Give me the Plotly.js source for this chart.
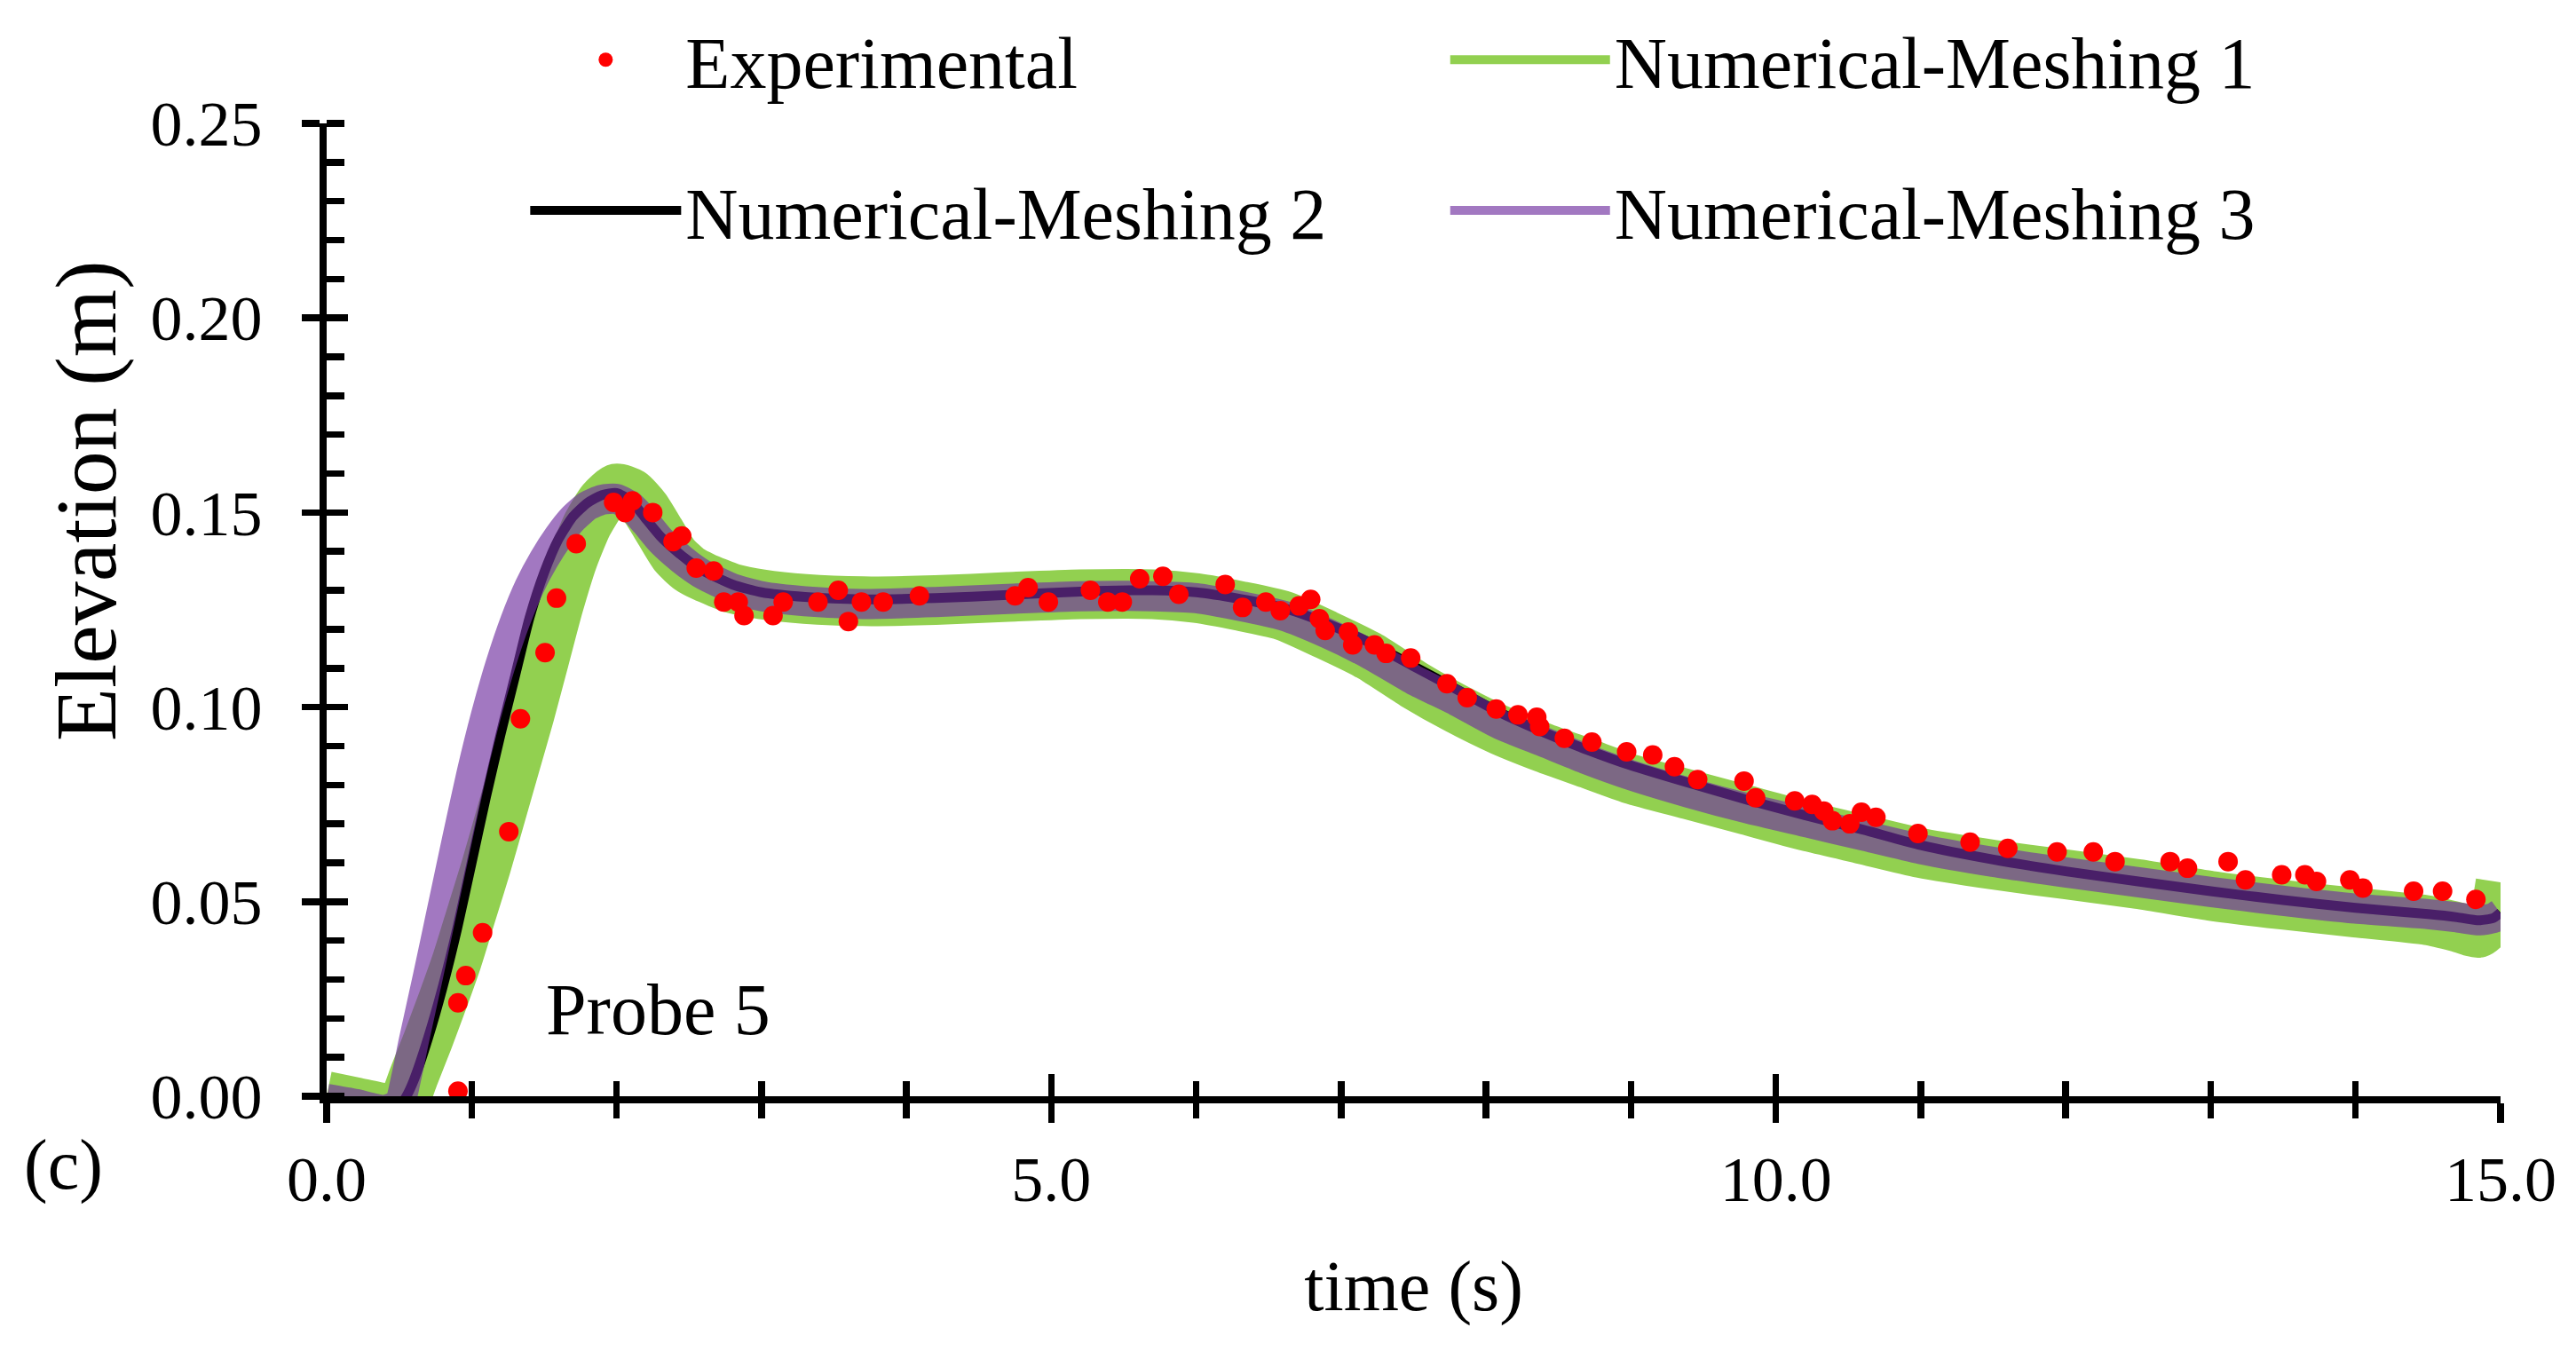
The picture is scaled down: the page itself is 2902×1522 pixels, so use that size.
<!DOCTYPE html>
<html>
<head>
<meta charset="utf-8">
<script src="https://cdn.plot.ly/plotly-3.0.1.min.js"></script>
<style>html,body{margin:0;padding:0;background:#fff;}#chart{width:2902px;height:1522px;}</style>
</head>
<body>
<div id="chart"></div>
<script>
// ---- Data ----
const expTime = [0.906,0.906,0.96,1.076,1.257,1.337,1.507,1.586,1.722,1.98,2.06,2.11,2.25,2.39,2.45,2.55,2.67,2.74,2.84,2.88,3.08,3.15,3.39,3.53,3.60,3.69,3.84,4.09,4.75,4.84,4.98,5.27,5.39,5.49,5.61,5.77,5.88,6.20,6.32,6.48,6.58,6.71,6.79,6.85,6.89,7.05,7.08,7.23,7.31,7.48,7.73,7.87,8.07,8.22,8.35,8.37,8.54,8.73,8.97,9.15,9.30,9.46,9.78,9.86,10.13,10.25,10.33,10.39,10.51,10.59,10.69,10.98,11.34,11.60,11.94,12.19,12.34,12.72,12.84,13.12,13.24,13.49,13.65,13.73,13.96,14.05,14.40,14.60,14.83];
const expElev = [0.0013,0.024,0.031,0.042,0.068,0.097,0.114,0.128,0.142,0.1526,0.150,0.153,0.150,0.1425,0.144,0.1357,0.135,0.127,0.127,0.1235,0.1235,0.127,0.127,0.130,0.122,0.127,0.127,0.1286,0.1286,0.1307,0.127,0.130,0.127,0.127,0.133,0.1336,0.129,0.1315,0.1256,0.127,0.1248,0.126,0.1277,0.1227,0.1197,0.1193,0.116,0.116,0.1138,0.1126,0.106,0.1024,0.0995,0.098,0.0974,0.095,0.092,0.091,0.0885,0.0877,0.0847,0.0814,0.081,0.0767,0.0759,0.075,0.0733,0.0708,0.070,0.073,0.0717,0.0675,0.0653,0.0637,0.0628,0.0628,0.0603,0.0603,0.0586,0.0603,0.0556,0.0569,0.0569,0.0552,0.0556,0.0535,0.0527,0.0527,0.0506];

const numTime = [0,0.2,0.4,0.5,0.55,0.6,0.7,0.8,0.9,1.0,1.1,1.2,1.3,1.4,1.5,1.6,1.7,1.8,1.9,2.0,2.1,2.2,2.3,2.4,2.5,2.6,2.8,3.0,3.3,3.7,4.2,4.7,5.2,5.7,6.0,6.3,6.6,6.9,7.2,7.5,7.8,8.1,8.4,8.7,9.0,9.4,9.8,10.2,10.6,11.0,11.5,12.0,12.5,13.0,13.5,14.0,14.5,14.7,14.85,14.95,15.0];
const mesh1 = [0.0,-0.0015,-0.003,-0.003,0.0,0.005,0.0145,0.0245,0.035,0.047,0.059,0.072,0.085,0.098,0.112,0.126,0.138,0.147,0.153,0.1562,0.155,0.151,0.145,0.139,0.1355,0.1335,0.1305,0.129,0.1278,0.1272,0.1275,0.1283,0.129,0.129,0.128,0.126,0.1235,0.1185,0.113,0.1058,0.0995,0.094,0.0895,0.0855,0.0815,0.0775,0.0735,0.0695,0.066,0.0625,0.0595,0.057,0.0545,0.0515,0.0492,0.0472,0.0452,0.0435,0.042,0.046,0.055];
const mesh2 = [-0.001,-0.002,-0.003,-0.0025,0.0,0.004,0.015,0.028,0.043,0.060,0.077,0.093,0.108,0.123,0.1345,0.1432,0.149,0.1525,0.1545,0.155,0.153,0.1485,0.144,0.1405,0.1375,0.135,0.1315,0.1295,0.1283,0.1277,0.128,0.1288,0.1297,0.130,0.1295,0.1278,0.1255,0.1215,0.1165,0.1105,0.1045,0.0985,0.0935,0.089,0.085,0.0805,0.0762,0.0722,0.0685,0.0645,0.0608,0.0578,0.0552,0.0527,0.0504,0.0484,0.0468,0.046,0.0452,0.0458,0.0472];
const mesh3 = [-0.0007,-0.002,-0.0035,-0.002,0.005,0.014,0.031,0.0485,0.066,0.083,0.098,0.111,0.122,0.131,0.138,0.1438,0.1485,0.1517,0.1533,0.1535,0.1515,0.1475,0.143,0.1395,0.1365,0.134,0.1305,0.1285,0.1272,0.1265,0.127,0.1278,0.1285,0.1285,0.128,0.126,0.1235,0.119,0.1135,0.107,0.1015,0.0955,0.091,0.0865,0.0825,0.078,0.074,0.0705,0.067,0.0635,0.0602,0.0575,0.055,0.0525,0.0502,0.0482,0.0468,0.046,0.0452,0.0458,0.047];

const xTickFormat = '.1f';
const yTickFormat = '.2f';

// ---- Styling ----
const FONT = 'Liberation Serif, Times New Roman, serif';
const traces = [
  {x: numTime, y: mesh1, name: 'Numerical-Meshing 1', type: 'scatter', mode: 'lines',
   line: {color: '#92D050', width: 56, shape: 'spline', smoothing: 0.6},
   xaxis: 'x', yaxis: 'y', legend: 'legend2', legendgroup: 'g2', legendrank: 1},
  {x: numTime, y: mesh2, name: 'Numerical-Meshing 2', type: 'scatter', mode: 'lines',
   line: {color: '#000000', width: 11, shape: 'spline', smoothing: 0.6},
   xaxis: 'x', yaxis: 'y', legend: 'legend', legendgroup: 'g3', legendrank: 2},
  {x: numTime, y: mesh3, name: 'Numerical-Meshing 3', type: 'scatter', mode: 'lines',
   line: {color: 'rgba(112,48,160,0.65)', width: 34, shape: 'spline', smoothing: 0.6},
   xaxis: 'x2', yaxis: 'y2', legend: 'legend2', legendgroup: 'g4', legendrank: 2},
  {x: expTime, y: expElev, name: 'Experimental', type: 'scatter', mode: 'markers',
   marker: {color: '#FF0000', size: 22}, cliponaxis: false,
   xaxis: 'x2', yaxis: 'y2', legend: 'legend', legendgroup: 'g1', legendrank: 1}
];

const axisCommon = {showgrid: false, zeroline: false, linecolor: '#000', tickcolor: '#000'};
const layout = {
  width: 2902, height: 1522,
  paper_bgcolor: '#fff', plot_bgcolor: 'rgba(0,0,0,0)',
  font: {family: FONT, color: '#000', size: 80},
  margin: {l: 368, r: 85, t: 139, b: 287, pad: 0, autoexpand: false},
  showlegend: true,
  xaxis: Object.assign({}, axisCommon, {
    range: [0, 15], tick0: 0, dtick: 5, tickformat: xTickFormat,
    showline: true, linewidth: 8, ticks: 'outside', ticklen: 22, tickwidth: 7.5,
    minor: {dtick: 1, tick0: 0, ticks: 'outside', ticklen: 17, tickwidth: 7.5, tickcolor: '#000'},
    tickfont: {family: FONT, size: 72, color: '#000'}, ticklabelstandoff: 2,
    title: {text: 'time (s)', font: {family: FONT, size: 80, color: '#000'}, standoff: 55},
    fixedrange: true
  }),
  yaxis: Object.assign({}, axisCommon, {
    range: [0, 0.25], tick0: 0, dtick: 0.05, tickformat: yTickFormat,
    showline: true, linewidth: 8, ticks: 'outside', ticklen: 20, tickwidth: 7.5,
    minor: {dtick: 0.01, tick0: 0, ticks: 'inside', ticklen: 20, tickwidth: 7.5, tickcolor: '#000'},
    tickfont: {family: FONT, size: 72, color: '#000'}, ticklabelstandoff: 30,
    fixedrange: true
  }),
  xaxis2: Object.assign({}, axisCommon, {
    overlaying: 'x', anchor: 'y2', range: [0, 15], tick0: 0, dtick: 5,
    showline: false, showticklabels: false, ticks: 'inside', ticklen: 25, tickwidth: 7.5,
    minor: {dtick: 1, tick0: 0, ticks: 'inside', ticklen: 17, tickwidth: 7.5, tickcolor: '#000'},
    fixedrange: true
  }),
  yaxis2: Object.assign({}, axisCommon, {
    overlaying: 'y', anchor: 'x2', side: 'left', range: [0, 0.25], tick0: 0, dtick: 0.05,
    showline: false, showticklabels: false, ticks: 'inside', ticklen: 24, tickwidth: 7.5,
    fixedrange: true
  }),
  legend: {x: 0.0916, y: 1.12, xanchor: 'left', yanchor: 'top', orientation: 'v',
           xref: 'paper', yref: 'paper', bgcolor: 'rgba(0,0,0,0)', borderwidth: 0,
           font: {family: FONT, size: 82, color: '#000'}, itemwidth: 170, tracegroupgap: 60,
           traceorder: 'grouped', itemclick: false, itemdoubleclick: false},
  legend2: {x: 0.5148, y: 1.12, xanchor: 'left', yanchor: 'top', orientation: 'v',
           xref: 'paper', yref: 'paper', bgcolor: 'rgba(0,0,0,0)', borderwidth: 0,
           font: {family: FONT, size: 82, color: '#000'}, itemwidth: 180, tracegroupgap: 60,
           traceorder: 'grouped', itemclick: false, itemdoubleclick: false},
  annotations: [
    {text: 'Elevation (m)', xref: 'paper', yref: 'paper', x: -0.1104, y: 0.612,
     xanchor: 'center', yanchor: 'middle', textangle: -90, showarrow: false,
     font: {family: FONT, size: 98, color: '#000'}},
    {text: '(c)', xref: 'paper', yref: 'paper', x: -0.121, y: -0.0706,
     xanchor: 'center', yanchor: 'middle', showarrow: false,
     font: {family: FONT, size: 80, color: '#000'}},
    {text: 'Probe 5', xref: 'x', yref: 'y', x: 1.5, y: 0.0223,
     xanchor: 'left', yanchor: 'middle', showarrow: false,
     font: {family: FONT, size: 82, color: '#000'}}
  ]
};

Plotly.newPlot('chart', traces, layout, {displayModeBar: false, staticPlot: true, responsive: false});
</script>
</body>
</html>
